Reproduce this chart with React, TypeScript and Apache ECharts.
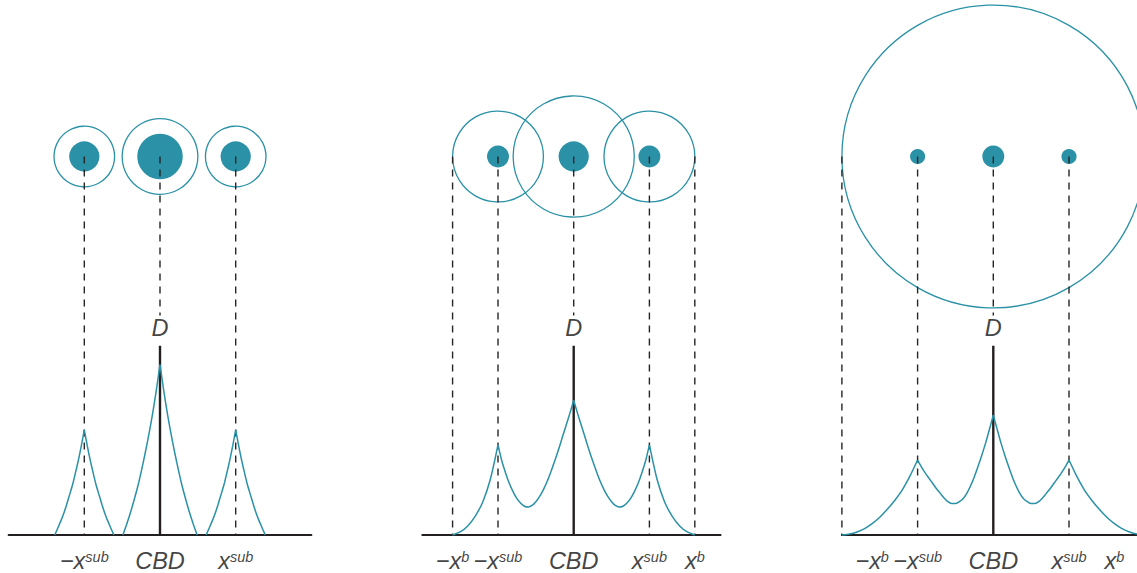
import React, { useEffect, useRef } from "react";
import * as echarts from "echarts";

// ---------- data (units: distance from CBD, x^sub = 1) ----------
// market areas (outer rings): [x, y, radius]
const marketsP1 = [[-1, 5, 0.4], [0, 5, 0.5], [1, 5, 0.4]];
const marketsP2 = [[-1, 5, 0.6], [0, 5, 0.8], [1, 5, 0.6]];
const marketsP3 = [[0, 5, 2.0]];
// centre sizes (filled dots): [x, y, radius]
const centresP1 = [[-1, 5, 0.2], [0, 5, 0.3], [1, 5, 0.2]];
const centresP2 = [[-1, 5, 0.145], [0, 5, 0.2], [1, 5, 0.145]];
const centresP3 = [[-1, 5, 0.1], [0, 5, 0.145], [1, 5, 0.1]];
// dashed guides: [x, yTop, yBottom]
const guidesP1 = [[-1, 5, 0], [0, 5, 2.9], [1, 5, 0]];
const guidesP2 = [[-1.6, 5, 0], [-1, 5, 0], [0, 5, 2.9], [1, 5, 0], [1.6, 5, 0]];
const guidesP3 = [[-2, 5, 0], [-1, 5, 0], [0, 5, 2.9], [1, 5, 0], [2, 5, 0]];
// CBD solid bar: [x, yTop, yBottom]
const cbdBar = [[0, 2.5, 0]];
const dLabel = [[0, 2.7]];
// tick labels: [x, main, superscript]
const ticksP1 = [[-1, "−x", "sub"], [0, "CBD", ""], [1, "x", "sub"]];
const ticksP2 = [[-1.6, "−x", "b"], [-1, "−x", "sub"], [0, "CBD", ""], [1, "x", "sub"], [1.6, "x", "b"]];
const ticksP3 = [[-1.6, "−x", "b"], [-1, "−x", "sub"], [0, "CBD", ""], [1, "x", "sub"], [1.6, "x", "b"]];
const tickLabelY = -0.37;
// density curves, as smooth segments between kinks
const densityP1 = [
  [[-1.39, 0], [-1.351, 0.09], [-1.312, 0.18], [-1.273, 0.28], [-1.234, 0.4], [-1.195, 0.53], [-1.156, 0.66], [-1.117, 0.82], [-1.078, 0.99], [-1.039, 1.18], [-1.0, 1.39]],
  [[-1.0, 1.39], [-0.961, 1.18], [-0.922, 0.99], [-0.883, 0.82], [-0.844, 0.66], [-0.805, 0.53], [-0.766, 0.4], [-0.727, 0.28], [-0.688, 0.18], [-0.649, 0.09], [-0.61, 0]],
  [[-0.49, 0], [-0.441, 0.14], [-0.392, 0.29], [-0.343, 0.46], [-0.294, 0.64], [-0.245, 0.85], [-0.196, 1.08], [-0.147, 1.33], [-0.098, 1.6], [-0.049, 1.91], [0, 2.25]],
  [[0, 2.25], [0.049, 1.91], [0.098, 1.6], [0.147, 1.33], [0.196, 1.08], [0.245, 0.85], [0.294, 0.64], [0.343, 0.46], [0.392, 0.29], [0.441, 0.14], [0.49, 0]],
  [[0.61, 0], [0.649, 0.09], [0.688, 0.18], [0.727, 0.28], [0.766, 0.4], [0.805, 0.53], [0.844, 0.66], [0.883, 0.82], [0.922, 0.99], [0.961, 1.18], [1.0, 1.39]],
  [[1.0, 1.39], [1.039, 1.18], [1.078, 0.99], [1.117, 0.82], [1.156, 0.66], [1.195, 0.53], [1.234, 0.4], [1.273, 0.28], [1.312, 0.18], [1.351, 0.09], [1.39, 0]],
];
const densityP2 = [
  [[-1.6, 0], [-1.5, 0.04], [-1.4, 0.12], [-1.3, 0.25], [-1.2, 0.44], [-1.1, 0.74], [-1.0, 1.19]],
  [[-1.0, 1.19], [-0.95, 0.98], [-0.9, 0.82], [-0.85, 0.68], [-0.8, 0.57], [-0.75, 0.48], [-0.7, 0.42], [-0.65, 0.38], [-0.6, 0.37], [-0.55, 0.39], [-0.5, 0.44], [-0.45, 0.51], [-0.4, 0.6], [-0.35, 0.71], [-0.3, 0.84], [-0.25, 0.98], [-0.2, 1.13], [-0.15, 1.29], [-0.1, 1.45], [-0.05, 1.61], [0, 1.78]],
  [[0, 1.78], [0.05, 1.61], [0.1, 1.45], [0.15, 1.29], [0.2, 1.13], [0.25, 0.98], [0.3, 0.84], [0.35, 0.71], [0.4, 0.6], [0.45, 0.51], [0.5, 0.44], [0.55, 0.39], [0.6, 0.37], [0.65, 0.38], [0.7, 0.42], [0.75, 0.48], [0.8, 0.57], [0.85, 0.68], [0.9, 0.82], [0.95, 0.98], [1.0, 1.19]],
  [[1.0, 1.19], [1.1, 0.74], [1.2, 0.44], [1.3, 0.25], [1.4, 0.12], [1.5, 0.04], [1.6, 0]],
];
const densityP3 = [
  [[-2, 0], [-1.9, 0.012], [-1.8, 0.04], [-1.7, 0.085], [-1.6, 0.15], [-1.5, 0.235], [-1.4, 0.34], [-1.3, 0.46], [-1.2, 0.6], [-1.1, 0.78], [-1.0, 0.99]],
  [[-1.0, 0.99], [-0.95, 0.9], [-0.9, 0.82], [-0.85, 0.75], [-0.8, 0.68], [-0.75, 0.61], [-0.7, 0.55], [-0.65, 0.49], [-0.6, 0.44], [-0.55, 0.415], [-0.5, 0.415], [-0.45, 0.44], [-0.4, 0.48], [-0.35, 0.55], [-0.3, 0.65], [-0.25, 0.77], [-0.2, 0.91], [-0.15, 1.06], [-0.1, 1.22], [-0.05, 1.4], [0, 1.585]],
  [[0, 1.585], [0.05, 1.4], [0.1, 1.22], [0.15, 1.06], [0.2, 0.91], [0.25, 0.77], [0.3, 0.65], [0.35, 0.55], [0.4, 0.48], [0.45, 0.44], [0.5, 0.415], [0.55, 0.415], [0.6, 0.44], [0.65, 0.49], [0.7, 0.55], [0.75, 0.61], [0.8, 0.68], [0.85, 0.75], [0.9, 0.82], [0.95, 0.9], [1.0, 0.99]],
  [[1.0, 0.99], [1.1, 0.78], [1.2, 0.6], [1.3, 0.46], [1.4, 0.34], [1.5, 0.235], [1.6, 0.15], [1.7, 0.085], [1.8, 0.04], [1.9, 0.012], [2, 0]],
];
const xMaxes = [2, 1.94, 1.898];

// ---------- styles / layout ----------
const TEAL = "#2a91a6";
const INK = "#111111";
const U = 75.7; // px per unit
const cbdX = [160, 573.7, 993.3];
const FONT = "'Liberation Sans', Arial, Helvetica, sans-serif";

const panels = [
  { markets: marketsP1, centres: centresP1, guides: guidesP1, ticks: ticksP1, density: densityP1 },
  { markets: marketsP2, centres: centresP2, guides: guidesP2, ticks: ticksP2, density: densityP2 },
  { markets: marketsP3, centres: centresP3, guides: guidesP3, ticks: ticksP3, density: densityP3 },
];

function circleItem(fill: boolean) {
  return (params: any, api: any) => {
    const c = api.coord([api.value(0), api.value(1)]);
    const r = api.size([api.value(2), 0])[0];
    return {
      type: "circle",
      shape: { cx: c[0], cy: c[1], r },
      style: fill
        ? { fill: TEAL, stroke: "none" }
        : { fill: "none", stroke: TEAL, lineWidth: 1.3 },
    };
  };
}

function segmentItem(color: string, width: number, dash: number[] | null) {
  return (params: any, api: any) => {
    const p1 = api.coord([api.value(0), api.value(1)]);
    const p2 = api.coord([api.value(0), api.value(2)]);
    return {
      type: "line",
      shape: { x1: p1[0], y1: p1[1], x2: p2[0], y2: p2[1] },
      style: { stroke: color, lineWidth: width, lineDash: dash || undefined, fill: "none" },
    };
  };
}

const rich = {
  m: { fontSize: 23.5, fontStyle: "italic", fontFamily: FONT, color: INK, lineHeight: 18, verticalAlign: "bottom" },
  s: { fontSize: 14.5, fontStyle: "italic", fontFamily: FONT, color: INK, lineHeight: 12, verticalAlign: "bottom", padding: [0, 0, 8, 0] },
};

function buildOption() {
  const grid: any[] = [];
  const xAxis: any[] = [];
  const yAxis: any[] = [];
  const series: any[] = [];
  panels.forEach((p, i) => {
    grid.push({ left: cbdX[i] - 2 * U, width: (2 + xMaxes[i]) * U, top: 535 - 7 * U, height: 7.5 * U });
    xAxis.push({
      gridIndex: i, type: "value", min: -2, max: xMaxes[i],
      axisLine: { show: true, onZero: true, lineStyle: { color: "#231f20", width: 2 } },
      axisTick: { show: false }, axisLabel: { show: false }, splitLine: { show: false },
    });
    yAxis.push({ gridIndex: i, type: "value", min: -0.5, max: 7, show: false, splitLine: { show: false } });
    const ax = { xAxisIndex: i, yAxisIndex: i };
    series.push({ type: "custom", ...ax, z: 2, renderItem: circleItem(false), data: p.markets, silent: true });
    series.push({ type: "custom", ...ax, z: 3, renderItem: circleItem(true), data: p.centres, silent: true });
    series.push({ type: "custom", ...ax, z: 4, renderItem: segmentItem("#262626", 1.4, [7, 6]), data: p.guides, silent: true });
    series.push({ type: "custom", ...ax, z: 4, renderItem: segmentItem("#231f20", 2.4, null), data: cbdBar, silent: true });
    p.density.forEach((seg) => {
      series.push({
        type: "line", ...ax, z: 5, data: seg, smooth: 0.25,
        symbol: "none", lineStyle: { color: TEAL, width: 1.5 }, silent: true,
      });
    });
    series.push({
      type: "scatter", ...ax, z: 6, symbolSize: 1, itemStyle: { color: "rgba(0,0,0,0)" }, silent: true,
      data: p.ticks.map((t) => ({ value: [t[0], tickLabelY], main: t[1], sup: t[2] })),
      label: {
        show: true, position: "inside", rich,
        formatter: (q: any) => `{m|${q.data.main}}` + (q.data.sup ? `{s|${q.data.sup}}` : ""),
      },
    });
    series.push({
      type: "scatter", ...ax, z: 6, symbolSize: 1, itemStyle: { color: "rgba(0,0,0,0)" }, silent: true,
      data: dLabel.map((d) => ({ value: d, main: "D" })),
      label: { show: true, position: "inside", rich, formatter: (q: any) => `{m|${q.data.main}}` },
    });
  });
  return { animation: false, backgroundColor: "#ffffff", grid, xAxis, yAxis, series };
}

export default function App() {
  const ref = useRef<HTMLDivElement>(null);
  useEffect(() => {
    if (!ref.current) return;
    const chart = echarts.init(ref.current, null, { renderer: "svg" });
    chart.setOption(buildOption() as any);
    return () => chart.dispose();
  }, []);
  return (
    <div
      ref={ref}
      style={{ position: "fixed", left: 0, top: 0, width: 1137, height: 573, background: "#fff" }}
    />
  );
}
